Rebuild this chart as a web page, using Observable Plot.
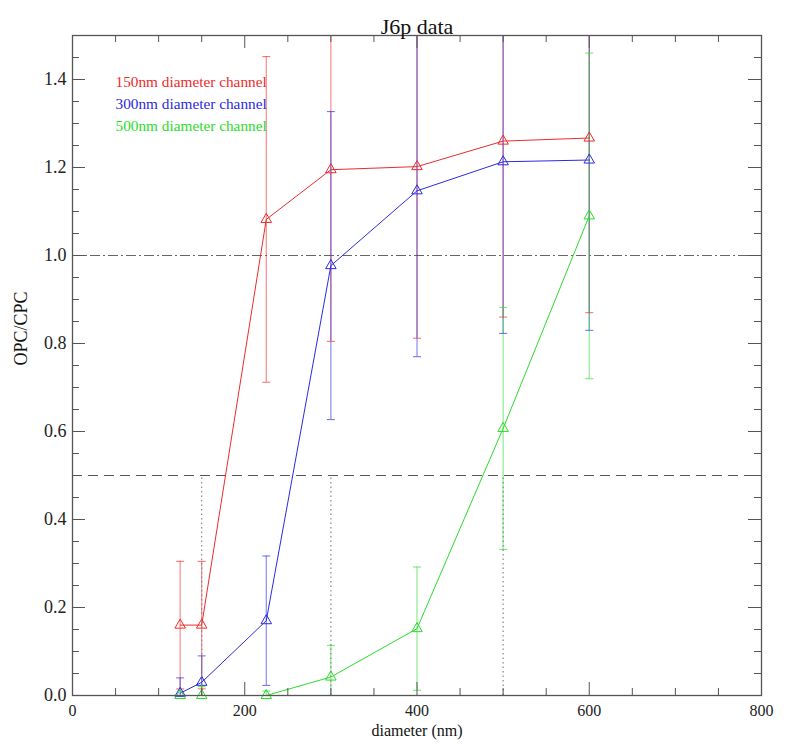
<!DOCTYPE html>
<html>
<head>
<meta charset="utf-8">
<script src="https://cdn.jsdelivr.net/npm/d3@7"></script>
<script src="https://cdn.jsdelivr.net/npm/@observablehq/plot@0.6"></script>
<style>
  html, body { margin: 0; padding: 0; background: #fff; }
  svg { display: block; }
  svg text { font-family: "Liberation Serif", "Times New Roman", serif !important; }
</style>
</head>
<body>
<div id="chart"></div>
<script>
// ---- data ----
const chartTitle = "J6p data";
const xLabel = "diameter (nm)";
const yLabel = "OPC/CPC";
const diameters = [125, 150, 225, 300, 400, 500, 600];
const seriesNames = ["150nm diameter channel", "300nm diameter channel", "500nm diameter channel"];
const seriesColors = ["#ee2b2b", "#2b2be2", "#2bdc2b"];
const ch150 = [0.16, 0.16, 1.082, 1.195, 1.202, 1.26, 1.267];
const ch150err = [0.145, 0.145, 0.37, 0.39, 0.39, 0.40, 0.397];
const ch300 = [0.005, 0.03, 0.17, 0.977, 1.147, 1.213, 1.217];
const ch300err = [0.035, 0.06, 0.147, 0.35, 0.377, 0.39, 0.387];
const ch500 = [0.0, 0.0, 0.0, 0.042, 0.152, 0.607, 1.09];
const ch500err = [0.0, 0.02, 0.01, 0.072, 0.14, 0.275, 0.37];
const crossingDiameters = [150, 300, 500];
const halfLevel = 0.5;
const unityLevel = 1.0;
const xTicks = [0, 200, 400, 600, 800];
const xMinorTicks = [50, 100, 150, 250, 300, 350, 450, 500, 550, 650, 700, 750];
const yTicks = [0, 0.2, 0.4, 0.6, 0.8, 1.0, 1.2, 1.4];
const yMinorTicks = [0.05, 0.1, 0.15, 0.25, 0.3, 0.35, 0.45, 0.5, 0.55, 0.65, 0.7, 0.75, 0.85, 0.9, 0.95, 1.05, 1.1, 1.15, 1.25, 1.3, 1.35, 1.45];

// ---- build table ----
const values = [ch150, ch300, ch500];
const errors = [ch150err, ch300err, ch500err];
const rows = [];
seriesNames.forEach((name, s) => {
  diameters.forEach((d, i) => {
    rows.push({series: name, x: d, y: values[s][i], err: errors[s][i],
               lo: values[s][i] - errors[s][i], hi: values[s][i] + errors[s][i]});
  });
});
const barRows = rows.filter(r => r.err > 0);

// ---- layout ----
const W = 786, H = 744;
const mTop = 35, mLeft = 72, mRight = 25, mBottom = 49;
const innerW = W - mLeft - mRight;
const innerH = H - mTop - mBottom;
const axisColor = "#555";
const serif = "Liberation Serif";

const capSymbol = {
  draw(context, size) {
    const r = Math.sqrt(size / Math.PI);
    context.moveTo(-r, 0);
    context.lineTo(r, 0);
  }
};

const plot = Plot.plot({
  width: W,
  height: H,
  marginTop: mTop,
  marginLeft: mLeft,
  marginRight: mRight,
  marginBottom: mBottom,
  style: {fontFamily: serif, fontSize: "16px", background: "#fff", color: "#222"},
  x: {domain: [0, 800]},
  y: {domain: [0, 1.5]},
  color: {domain: seriesNames, range: seriesColors},
  marks: [
    // reference lines
    Plot.ruleY([halfLevel], {y: d => d, stroke: "#555", strokeWidth: 1.1, strokeDasharray: "10,6"}),
    Plot.ruleY([unityLevel], {y: d => d, stroke: "#666", strokeWidth: 1.1, strokeDasharray: "10,3,2,3"}),
    // error bars
    Plot.ruleX(barRows, {x: "x", y1: "lo", y2: "hi", stroke: "series", strokeOpacity: 0.55, strokeWidth: 1.2, clip: true}),
    Plot.dot(barRows, {x: "x", y: "hi", symbol: capSymbol, r: 4, stroke: "series", fill: "none", strokeOpacity: 0.7, strokeWidth: 1, clip: true}),
    Plot.dot(barRows, {x: "x", y: "lo", symbol: capSymbol, r: 4, stroke: "series", fill: "none", strokeOpacity: 0.7, strokeWidth: 1, clip: true}),
    // series lines and markers
    Plot.line(rows, {x: "x", y: "y", z: "series", stroke: "series", strokeWidth: 1}),
    Plot.dot(rows, {x: "x", y: "y", symbol: "triangle", r: 3.9, stroke: "series", fill: "none", strokeWidth: 1}),
    // dotted verticals at 50% crossing
    Plot.ruleX(crossingDiameters, {x: d => d, y1: 0, y2: halfLevel, stroke: "#888", strokeWidth: 1.2, strokeDasharray: "1.5,3"}),
    // ticks (inward, mirrored)
    Plot.ruleX(xTicks, {x: d => d, insetTop: innerH - 13, stroke: axisColor}),
    Plot.ruleX(xMinorTicks, {x: d => d, insetTop: innerH - 7, stroke: axisColor}),
    Plot.ruleX(xTicks, {x: d => d, insetBottom: innerH - 13, stroke: axisColor}),
    Plot.ruleX(xMinorTicks, {x: d => d, insetBottom: innerH - 7, stroke: axisColor}),
    Plot.ruleY(yTicks, {y: d => d, insetRight: innerW - 13, stroke: axisColor}),
    Plot.ruleY(yMinorTicks, {y: d => d, insetRight: innerW - 7, stroke: axisColor}),
    Plot.ruleY(yTicks, {y: d => d, insetLeft: innerW - 13, stroke: axisColor}),
    Plot.ruleY(yMinorTicks, {y: d => d, insetLeft: innerW - 7, stroke: axisColor}),
    Plot.frame({stroke: axisColor, strokeWidth: 1.3}),
    // tick labels
    Plot.axisX(xTicks, {tickSize: 0, tickPadding: 9, label: null, tickFormat: d => String(d), fill: "#222", fontFamily: serif, fontSize: 16}),
    Plot.axisY(yTicks, {tickSize: 0, tickPadding: 6, label: null, tickFormat: d3.format(".1f"), fill: "#222", fontFamily: serif, fontSize: 18}),
    // titles
    Plot.text([chartTitle], {text: d => d, frameAnchor: "top", dy: -17, fontSize: 22, fill: "#111", fontFamily: serif}),
    Plot.text([xLabel], {text: d => d, frameAnchor: "bottom", dy: 40, fontSize: 16, fill: "#111", fontFamily: serif}),
    Plot.text([yLabel], {text: d => d, frameAnchor: "left", dx: -51, rotate: -90, fontSize: 18, fill: "#111", fontFamily: serif}),
    // legend
    ...seriesNames.map((name, i) =>
      Plot.text([name], {text: d => d, frameAnchor: "top-left", dx: 43, dy: 41 + 22 * i,
                         textAnchor: "start", fontSize: 15.3, fill: seriesColors[i], fontFamily: serif}))
  ]
});
document.getElementById("chart").appendChild(plot);
</script>
</body>
</html>
